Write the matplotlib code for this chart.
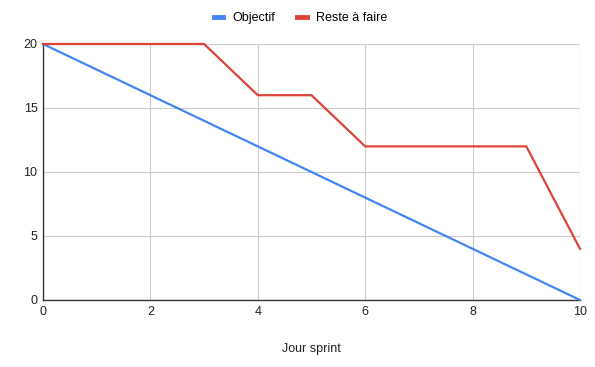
import matplotlib
matplotlib.use("Agg")
import matplotlib.pyplot as plt

days = [0, 1, 2, 3, 4, 5, 6, 7, 8, 9, 10]
objectif = [20, 18, 16, 14, 12, 10, 8, 6, 4, 2, 0]
reste = [20, 20, 20, 20, 16, 16, 12, 12, 12, 12, 4]
xticks = [0, 2, 4, 6, 8, 10]
yticks = [0, 5, 10, 15, 20]

plt.rcParams['font.family'] = ['Liberation Sans', 'DejaVu Sans']

fig = plt.figure(figsize=(5.95, 3.67), dpi=100)
ax = fig.add_axes([43/595, 1-300/367, (580-43)/595, (300-44)/367])

l1, = ax.plot(days, objectif, color='#4285F4', lw=1.6, label='Objectif', clip_on=False, zorder=3)
l2, = ax.plot(days, reste, color='#DB4437', lw=1.6, label='Reste à faire', clip_on=False, zorder=3)

ax.set_xlim(0, 10)
ax.set_ylim(0, 20)
ax.set_xticks(xticks)
ax.set_yticks(yticks)
ax.tick_params(length=0, labelsize=9, colors='#222222', pad=4)
ax.grid(True, color='#cccccc', lw=0.8)
ax.set_axisbelow(True)
for s in ['top', 'right']:
    ax.spines[s].set_visible(False)
for s in ['left', 'bottom']:
    ax.spines[s].set_color('#333333')
    ax.spines[s].set_linewidth(1)
    ax.spines[s].set_zorder(2.5)
ax.axhline(20, color='#cccccc', lw=0.8, zorder=1)
ax.axvline(10, color='#cccccc', lw=0.8, zorder=1)

ax.set_xlabel('Jour sprint', fontsize=9, color='#222222', labelpad=18)

fig.legend(handles=[l1, l2], loc='center', bbox_to_anchor=(0.505, 1-18/367),
           ncol=2, frameon=False, fontsize=9, handlelength=0.75, handletextpad=0.7,
           columnspacing=1.8)
for h in fig.legends[0].legend_handles:
    h.set_linewidth(3.5)

fig.savefig('out.png', dpi=100)
